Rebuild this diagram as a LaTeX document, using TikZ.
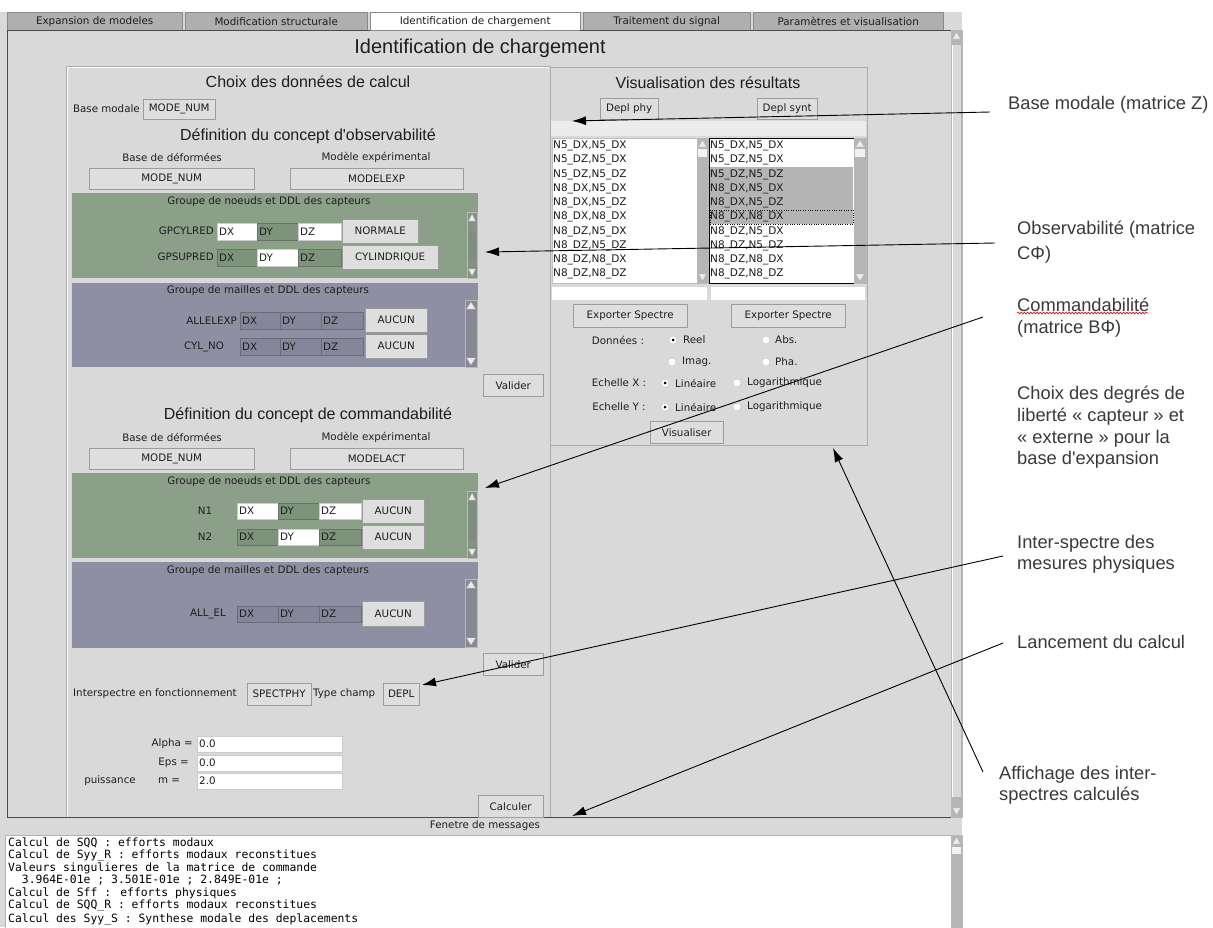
\documentclass[tikz,border=0pt]{standalone}
\usepackage{fontspec}
\setmainfont{DejaVu Sans}
\newfontfamily\hfont{Liberation Sans}
\newfontfamily\mfont{DejaVu Sans Mono}
\usetikzlibrary{arrows.meta,decorations.pathmorphing}
\definecolor{guibg}{HTML}{D9D9D9}
\definecolor{tabgray}{HTML}{AFAFAF}
\definecolor{tabline}{HTML}{8A8A8A}
\definecolor{btnfill}{HTML}{DEDEDE}
\definecolor{btnline}{HTML}{9C9C9C}
\definecolor{txt}{HTML}{1E1E1E}
\definecolor{anntxt}{HTML}{3A3A3A}
\definecolor{gpanel}{HTML}{8B9F89}
\definecolor{gfield}{HTML}{7E937C}
\definecolor{ppanel}{HTML}{8F8FA3}
\definecolor{pfield}{HTML}{86869A}
\definecolor{trough}{HTML}{B5B5B5}
\definecolor{strip}{HTML}{ECECEC}
\definecolor{selgray}{HTML}{B4B4B4}
\definecolor{framedark}{HTML}{4A4A4A}
\newcommand\guif{\fontsize{10.3}{12.2}\selectfont}
\newcommand\tabf{\fontsize{10.4}{12.4}\selectfont}
\newcommand\listf{\fontsize{10.5}{12.5}\selectfont}
\newcommand\wdg[7]{\pgfmathsetmacro\ww{#5-#3}\pgfmathsetmacro\hh{#6-#4}%
  \node[#1, anchor=north west, minimum width=\ww pt, minimum height=\hh pt] (#2) at (#3,#4) {#7};}
\newcommand\fld[7]{\pgfmathsetmacro\ww{#5-#3}\pgfmathsetmacro\hh{#6-#4}%
  \node[draw=#1!80!black, fill=#1, anchor=north west, minimum width=\ww pt, minimum height=\hh pt, inner sep=0pt] (#2) at (#3,#4) {};%
  \node[anchor=west, font=\guif, text=txt, inner sep=0pt] at ([xshift=2pt]#2.west) {#7};}
\newcommand\sbar[5]{%
  \fill[#1] (#2,#3) rectangle (#4,#5);
  \draw[gray!55] (#2,#3) rectangle (#4,#5);
  \pgfmathsetmacro\xm{(#2+#4)/2}%
  \filldraw[fill=white!85!gray, draw=gray!60] (#2+1.5,#3+9) -- (\xm,#3+2) -- (#4-1.5,#3+9) -- cycle;
  \filldraw[fill=white!85!gray, draw=gray!60] (#2+1.5,#5-9) -- (\xm,#5-2) -- (#4-1.5,#5-9) -- cycle;}
\newcommand\rad[3]{\filldraw[fill=white, draw=gray!45] (#1,#2) circle (4);%
  \ifnum#3=1 \fill[black] (#1,#2) circle (1.5);\fi}
\begin{document}
\begin{tikzpicture}[x=1pt,y=-1pt,
  gt/.style={font=\guif, text=txt, inner sep=0pt},
  hd/.style={font=\hfont\fontsize{16}{19}\selectfont, text=txt, inner sep=0pt},
  btn/.style={draw=btnline, fill=btnfill, font=\guif, text=txt, inner sep=0pt},
  tab/.style={draw=tabline, fill=tabgray, font=\tabf, text=txt, inner sep=0pt},
  ann/.style={font=\hfont\fontsize{18.3}{21.7}\selectfont, text=anntxt, inner sep=0pt, align=left, anchor=north west},
  conn/.style={draw=black, line width=0.9pt, -{Latex[length=14pt,width=9pt]}},
  msg/.style={font=\mfont\fontsize{11.4}{11.7}\selectfont, text=black, inner sep=0pt, anchor=west},
  li/.style={font=\listf, text=txt, inner sep=0pt, anchor=west},
  etch/.style={draw=gray!65, line width=0.8pt},
]
\useasboundingbox (0,0) rectangle (1213,927);
\fill[white] (0,0) rectangle (1213,927);
\fill[guibg] (0,12) rectangle (962,927);

% ---------- tabs
\wdg{tab}{t1}{7}{12}{182}{30}{Expansion de modeles}
\wdg{tab}{t2}{185}{12}{367}{30}{Modification structurale}
\wdg{tab, fill=white}{t3}{370}{12}{580}{30}{Identification de chargement}
\wdg{tab}{t4}{583}{12}{750}{30}{Traitement du signal}
\wdg{tab}{t5}{753}{12}{943}{30}{Paramètres et visualisation}

% ---------- main frame
\draw[framedark, line width=1pt] (7,30) -- (7,817) -- (951,817) -- (951,30);
\draw[framedark, line width=1pt] (7,30) -- (370,30) (580,30) -- (951,30);
\node[font=\hfont\fontsize{20}{23}\selectfont, text=txt, inner sep=0pt] (title) at (480,48) {Identification de chargement};
% main scrollbar
\sbar{trough}{951}{30}{962}{817}
\fill[guibg] (952,45) rectangle (961,797);
\draw[white] (952,45) -- (952,797);

% ---------- inner panels
\draw[etch] (66,817) -- (66,66) -- (550,66) -- (550,817);
\draw[etch] (551,445) -- (867,445) -- (867,67) -- (551,67);
\draw[white, line width=0.6pt] (67,817) -- (67,67) -- (549,67);

% ---------- left column
\node[hd] (hChoix) at (308,82) {Choix des données de calcul};
\node[gt, anchor=east] (lBase) at (140,109) {Base modale};
\wdg{btn}{bBase}{143}{99}{215}{119}{MODE\_NUM}
\node[hd] (hObs) at (308,136) {Définition du concept d'observabilité};
\node[gt] (lDef1) at (172,157) {Base de déformées};
\node[gt] (lMod1) at (376,157) {Modèle expérimental};
\wdg{btn}{bDef1}{89}{168}{254}{189}{MODE\_NUM}
\wdg{btn}{bMod1}{290}{168}{463}{189}{MODELEXP}

% green panel 1
\fill[gpanel] (72,193) rectangle (478,278);
\node[gt] (gT1) at (269,202) {Groupe de noeuds et DDL des capteurs};
\node[gt, anchor=east] (gL1) at (214,231) {GPCYLRED};
\fld{white}{f11}{217}{223}{257}{240}{DX}
\fld{gfield}{f12}{257}{223}{298}{240}{DY}
\fld{white}{f13}{298}{223}{341}{240}{DZ}
\wdg{btn}{bNorm}{342}{219}{418}{243}{NORMALE}
\node[gt, anchor=east] (gL2) at (214,257) {GPSUPRED};
\fld{gfield}{f21}{217}{249}{257}{266}{DX}
\fld{white}{f22}{257}{249}{298}{266}{DY}
\fld{gfield}{f23}{298}{249}{341}{266}{DZ}
\wdg{btn}{bCyl}{342}{245}{438}{269}{CYLINDRIQUE}
\sbar{gray!45!gpanel}{467}{212}{477}{278}
\fill[gfield!80!gray] (468,233) rectangle (476,258);

% purple panel 1
\fill[ppanel] (72,283) rectangle (478,367);
\node[gt] (pT1) at (268,291) {Groupe de mailles et DDL des capteurs};
\node[gt, anchor=east] (pL1) at (237,321) {ALLELEXP};
\fld{pfield}{f31}{240}{312}{280}{329}{DX}
\fld{pfield}{f32}{280}{312}{321}{329}{DY}
\fld{pfield}{f33}{321}{312}{363}{329}{DZ}
\wdg{btn}{bAuc1}{365}{308}{427}{332}{AUCUN}
\node[gt] (pL2) at (204,347) {CYL\_NO};
\fld{pfield}{f41}{240}{338}{280}{355}{DX}
\fld{pfield}{f42}{280}{338}{321}{355}{DY}
\fld{pfield}{f43}{321}{338}{363}{355}{DZ}
\wdg{btn}{bAuc2}{365}{334}{427}{358}{AUCUN}
\sbar{gray!40!ppanel}{465}{300}{477}{367}

\wdg{btn}{bVal1}{483}{374}{543}{396}{Valider}

% commandabilite
\node[hd] (hCom) at (308,415) {Définition du concept de commandabilité};
\node[gt] (lDef2) at (172,437) {Base de déformées};
\node[gt] (lMod2) at (376,437) {Modèle expérimental};
\wdg{btn}{bDef2}{89}{448}{254}{469}{MODE\_NUM}
\wdg{btn}{bMod2}{290}{448}{463}{469}{MODELACT}

% green panel 2
\fill[gpanel] (72,473) rectangle (478,558);
\node[gt] (gT2) at (269,482) {Groupe de noeuds et DDL des capteurs};
\node[gt] (nL1) at (205,511) {N1};
\fld{white}{f51}{237}{503}{278}{519}{DX}
\fld{gfield}{f52}{278}{503}{319}{519}{DY}
\fld{white}{f53}{319}{503}{361}{519}{DZ}
\wdg{btn}{bAuc3}{362}{499}{424}{523}{AUCUN}
\node[gt] (nL2) at (205,537) {N2};
\fld{gfield}{f61}{237}{529}{278}{545}{DX}
\fld{white}{f62}{278}{529}{319}{545}{DY}
\fld{gfield}{f63}{319}{529}{361}{545}{DZ}
\wdg{btn}{bAuc4}{362}{525}{424}{549}{AUCUN}
\sbar{gray!45!gpanel}{467}{491}{477}{558}
\fill[gfield!80!gray] (468,502) rectangle (476,540);

% purple panel 2
\fill[ppanel] (72,562) rectangle (478,648);
\node[gt] (pT2) at (268,571) {Groupe de mailles et DDL des capteurs};
\node[gt] (pL3) at (208,614) {ALL\_EL};
\fld{pfield}{f71}{237}{606}{278}{622}{DX}
\fld{pfield}{f72}{278}{606}{319}{622}{DY}
\fld{pfield}{f73}{319}{606}{361}{622}{DZ}
\wdg{btn}{bAuc5}{362}{601}{424}{626}{AUCUN}
\sbar{gray!40!ppanel}{465}{579}{477}{647}

\wdg{btn}{bVal2}{483}{653}{543}{675}{Valider}

% interspectre
\node[gt, anchor=west] (lInt) at (73,694) {Interspectre en fonctionnement};
\wdg{btn}{bSpec}{247}{683}{311}{705}{SPECTPHY}
\node[gt, anchor=west] (lType) at (313,694) {Type champ};
\wdg{btn}{bDepl}{383}{683}{419}{705}{DEPL}

\node[gt, anchor=east] (lAlpha) at (193,744) {Alpha =};
\fld{white}{fAlpha}{197}{736}{342}{752}{0.0}
\node[gt, anchor=east] (lEps) at (189,763) {Eps =};
\fld{white}{fEps}{197}{755}{342}{771}{0.0}
\node[gt] (lPuis) at (110,781) {puissance};
\node[gt] (lM) at (169,781) {m =};
\fld{white}{fM}{197}{773}{342}{789}{2.0}
\wdg{btn}{bCalc}{478}{795}{543}{817}{Calculer}

% ---------- right column
\node[hd] (hVis) at (708,83) {Visualisation des résultats};
\wdg{btn}{bPhy}{600}{98}{658}{119}{Depl phy}
\wdg{btn}{bSyn}{757}{98}{817}{119}{Depl synt}
\fill[strip] (551,121) rectangle (866,136);

\fill[white] (552,138) rectangle (697,283);
\draw[gray!50] (552,138) rectangle (697,283);
\sbar{trough}{697}{138}{708}{283}
\fill[white!90!gray] (698,149) rectangle (707,157);
\fill[white] (709,138) rectangle (854,283);
\fill[selgray] (710,167) rectangle (853,224);
\draw[black, dotted] (710,210) rectangle (853,224);
\draw[black, line width=0.8pt] (709,138) rectangle (854,283);
\sbar{trough}{854}{138}{866}{283}
\fill[white!90!gray] (855,149) rectangle (865,157);
\foreach \t [count=\i from 0] in {N5\_DX{,}N5\_DX, N5\_DZ{,}N5\_DX, N5\_DZ{,}N5\_DZ, N8\_DX{,}N5\_DX, N8\_DX{,}N5\_DZ, N8\_DX{,}N8\_DX, N8\_DZ{,}N5\_DX, N8\_DZ{,}N5\_DZ, N8\_DZ{,}N8\_DX, N8\_DZ{,}N8\_DZ}{
  \node[li] (la\i) at (553,146+14.25*\i) {\t};
  \node[li] (lb\i) at (710,146+14.25*\i) {\t};
}
\fill[white] (552,287) rectangle (707,300);
\fill[white] (711,287) rectangle (865,300);
\wdg{btn}{bExp1}{573}{304}{687}{327}{Exporter Spectre}
\wdg{btn}{bExp2}{731}{304}{845}{327}{Exporter Spectre}

\node[gt] (lDon) at (618,340) {Données :};
\rad{673}{340}{1}\node[gt, anchor=west] (rReel) at (683,340) {Reel};
\rad{766}{340}{0}\node[gt, anchor=west] (rAbs) at (775,340) {Abs.};
\rad{672}{362}{0}\node[gt, anchor=west] (rIm) at (682,362) {Imag.};
\rad{766}{362}{0}\node[gt, anchor=west] (rPha) at (775,362) {Pha.};
\node[gt] (lEx) at (619,383) {Echelle X :};
\rad{665}{383}{1}\node[gt, anchor=west] (rLx) at (675,383) {Linéaire};
\rad{737}{383}{0}\node[gt, anchor=west] (rGx) at (747,383) {Logarithmique};
\node[gt] (lEy) at (619,407) {Echelle Y :};
\rad{665}{407}{1}\node[gt, anchor=west] (rLy) at (675,407) {Linéaire};
\rad{737}{407}{0}\node[gt, anchor=west] (rGy) at (747,407) {Logarithmique};
\wdg{btn}{bVis}{650}{421}{723}{443}{Visualiser}

% ---------- messages
\node[gt] (lMsg) at (485,826) {Fenetre de messages};
\fill[white] (5,835) rectangle (951,927);
\draw[gray!60] (5,835) rectangle (951,930);
\begin{scope}
\clip (5,835) rectangle (951,927);
\node[msg] (m1) at (8,843) {Calcul de SQQ : efforts modaux};
\node[msg] (m2) at (8,855.5) {Calcul de Syy\_R : efforts modaux reconstitues};
\node[msg] (m3) at (8,868) {Valeurs singulieres de la matrice de commande};
\node[msg] (m4) at (8,880.5) {\ \ 3.964E-01e ; 3.501E-01e ; 2.849E-01e ;};
\node[msg] (m5) at (8,893) {Calcul de Sff : efforts physiques};
\node[msg] (m6) at (8,905.5) {Calcul de SQQ\_R : efforts modaux reconstitues};
\node[msg] (m7) at (8,919) {Calcul des Syy\_S : Synthese modale des deplacements};
\end{scope}
\sbar{trough}{951}{835}{962}{940}
\fill[white!90!gray] (952,847) rectangle (961,854);

% ---------- annotations
\node[ann] (aBM) at (1008,96.2) {Base modale (matrice Z)};
\node[ann, font=\hfont\fontsize{18.3}{25}\selectfont] (aOB) at (1017,221.2) {Observabilité (matrice\\CΦ)};
\node[ann, font=\hfont\fontsize{18.3}{22}\selectfont] (aCO) at (1017,298.2) {Commandabilité\\(matrice BΦ)};
\draw[red!85!black, line width=0.6pt, decorate, decoration={snake, amplitude=0.9pt, segment length=3.2pt}] (1017,313) -- (1148,313);
\node[ann] (aCH) at (1017,386.2) {Choix des degrés de\\liberté « capteur » et\\« externe » pour la\\base d'expansion};
\node[ann, font=\hfont\fontsize{18.3}{20.5}\selectfont] (aIS) at (1017,535.2) {Inter-spectre des\\mesures physiques};
\node[ann] (aLC) at (1017,635.2) {Lancement du calcul};
\node[ann, font=\hfont\fontsize{18.3}{20.5}\selectfont] (aAF) at (999,766.2) {Affichage des inter-\\spectres calculés};

% ---------- connectors
\coordinate (sBM) at (990,112);  \coordinate (tBM) at (572,121);
\coordinate (sOB) at (995,243);  \coordinate (tOB) at (485,252);
\coordinate (sCO) at (983,317);  \coordinate (tCO) at (485,488);
\coordinate (sIS) at (1003,556); \coordinate (tIS) at (422,685);
\coordinate (sLC) at (1003,643); \coordinate (tLC) at (572,816);
\coordinate (sAF) at (983,772);  \coordinate (tAF) at (833,448);
\draw[conn] (sBM) -- (tBM);
\draw[conn] (sOB) -- (tOB);
\draw[conn] (sCO) -- (tCO);
\draw[conn] (sIS) -- (tIS);
\draw[conn] (sLC) -- (tLC);
\draw[conn] (sAF) -- (tAF);
\end{tikzpicture}
\end{document}
